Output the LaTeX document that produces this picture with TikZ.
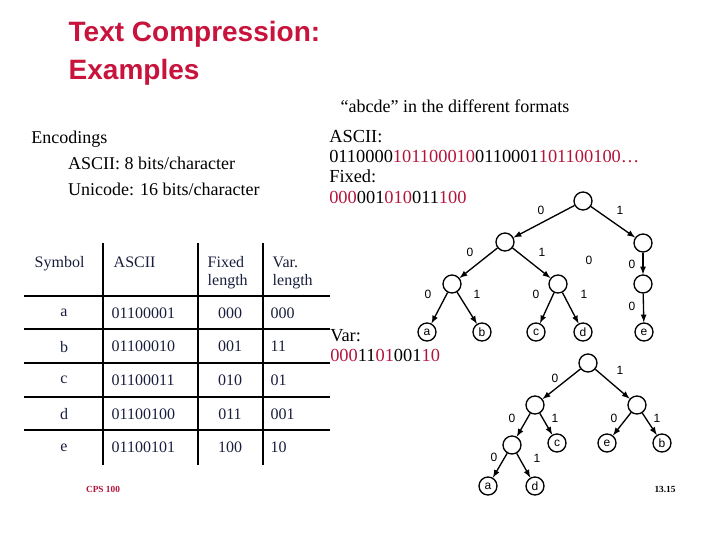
\documentclass[tikz,border=0pt]{standalone}
\usepackage{fontspec}
\setmainfont{Liberation Serif}
\newfontfamily\arial{Liberation Sans}
\definecolor{ttl}{RGB}{200,20,60}
\definecolor{rd}{RGB}{180,20,60}
\definecolor{nv}{RGB}{25,30,60}
\newcommand{\R}[1]{\textcolor{rd}{#1}}
\begin{document}
\begin{tikzpicture}[x=0.75pt,y=-0.75pt,
  tn/.style={circle,draw,line width=1pt,minimum size=13.5pt,inner sep=0pt,font=\arial\fontsize{9}{9}\selectfont},
  ed/.style={-latex,line width=1pt},
  bl/.style={font=\arial\fontsize{9}{9}\selectfont},
  tb/.style={font=\fontsize{12}{13.5}\selectfont,text=nv,align=left},
  tl/.style={line width=1.3pt}]
\useasboundingbox (0,0) rectangle (720,540);
\node[anchor=west,text=ttl,font=\arial\bfseries\fontsize{21}{28.5}\selectfont,align=left] (title) at (64,53) {Text Compression:\\Examples};
\node[font=\fontsize{13.5}{16}\selectfont] (fmt) at (455,106) {“abcde” in the different formats};
\node[anchor=north west,font=\fontsize{13.5}{19.5}\selectfont,align=left,inner sep=0pt] (enc) at (31,131) {Encodings\\\hspace*{2.05em}ASCII: 8 bits/character\\\hspace*{2.05em}Unicode: 16 bits/character};
\node[anchor=north west,font=\fontsize{13.8}{15.2}\selectfont,align=left,inner sep=0pt] (codes) at (329,130) {ASCII:\\0110000\R{1}\R{0110001}\R{0}0110001\R{1}\R{01100100}\R{…}\\Fixed:\\\R{000}001\R{010}011\R{100}};
\node[anchor=north west,font=\fontsize{13.8}{15.2}\selectfont,align=left,inner sep=0pt] (var) at (330,329) {Var:\\\R{000}11\R{01}001\R{10}};
% table
\foreach \y in {296,329,363,397,430} \draw[tl] (24,\y) -- (330,\y);
\foreach \x in {103,198,263} \draw[tl] (\x,243) -- (\x,465);
\node[tb,anchor=north west] (h1) at (30,252) {Symbol};
\node[tb,anchor=north west] (h2) at (109,252) {ASCII};
\node[tb,anchor=north west] (h3) at (203,252) {Fixed\\length};
\node[tb,anchor=north west] (h4) at (268,252) {Var.\\length};
\foreach \s/\a/\f/\v [count=\i] in {a/01100001/000/000,b/01100010/001/11,c/01100011/010/01,d/01100100/011/001,e/01100101/100/10}{
  \pgfmathsetmacro{\yy}{313+(\i-1)*33.6}
  \node[tb] (s\i) at (64,\yy) {\s};
  \node[tb,anchor=west] (a\i) at (107,\yy) {\a};
  \node[tb] (f\i) at (230,\yy) {\f};
  \node[tb,anchor=west] (v\i) at (266,\yy) {\v};
}
\node[text=rd,font=\fontsize{7}{8}\selectfont\bfseries] (cps) at (103,489) {CPS 100};
\node[font=\fontsize{7}{8}\selectfont\bfseries] (pg) at (665,489) {13.15};
% tree 1
\node[tn] (r) at (583,201) {};
\node[tn] (l) at (505,242) {};
\node[tn] (rr) at (643,243) {};
\node[tn] (ll) at (452,284) {};
\node[tn] (lr) at (558,284) {};
\node[tn] (rr2) at (643,284) {};
\node[tn] (na) at (427,332) {a};
\node[tn] (nb) at (482,332) {b};
\node[tn] (nc) at (536,332) {c};
\node[tn] (nd) at (583,332) {d};
\node[tn] (ne) at (644,332) {e};
\foreach \p/\c in {r/l,r/rr,l/ll,l/lr,rr/rr2,ll/na,ll/nb,lr/nc,lr/nd,rr2/ne} \draw[ed] (\p) -- (\c);
\foreach \x/\y/\t in {541/210/0,620/210/1,470/252/0,542/252/1,589/260/0,632/264/0,428/294/0,477/294/1,536/294/0,584/294/1,632/306/0} \node[bl] at (\x,\y) {\t};
% tree 2
\node[tn] (q) at (588,363) {};
\node[tn] (ql) at (535,405) {};
\node[tn] (qr) at (637,405) {};
\node[tn] (qll) at (512,445) {};
\node[tn] (qc) at (557,443) {c};
\node[tn] (qe) at (607,443) {e};
\node[tn] (qb) at (662,443) {b};
\node[tn] (qa) at (488,486) {a};
\node[tn] (qd) at (535,486) {d};
\foreach \p/\c in {q/ql,q/qr,ql/qll,ql/qc,qr/qe,qr/qb,qll/qa,qll/qd} \draw[ed] (\p) -- (\c);
\foreach \x/\y/\t in {555/378/0,620/370/1,512/418/0,555/418/1,614/418/0,657/418/1,494/457/0,537/458/1} \node[bl] at (\x,\y) {\t};
\end{tikzpicture}
\end{document}
